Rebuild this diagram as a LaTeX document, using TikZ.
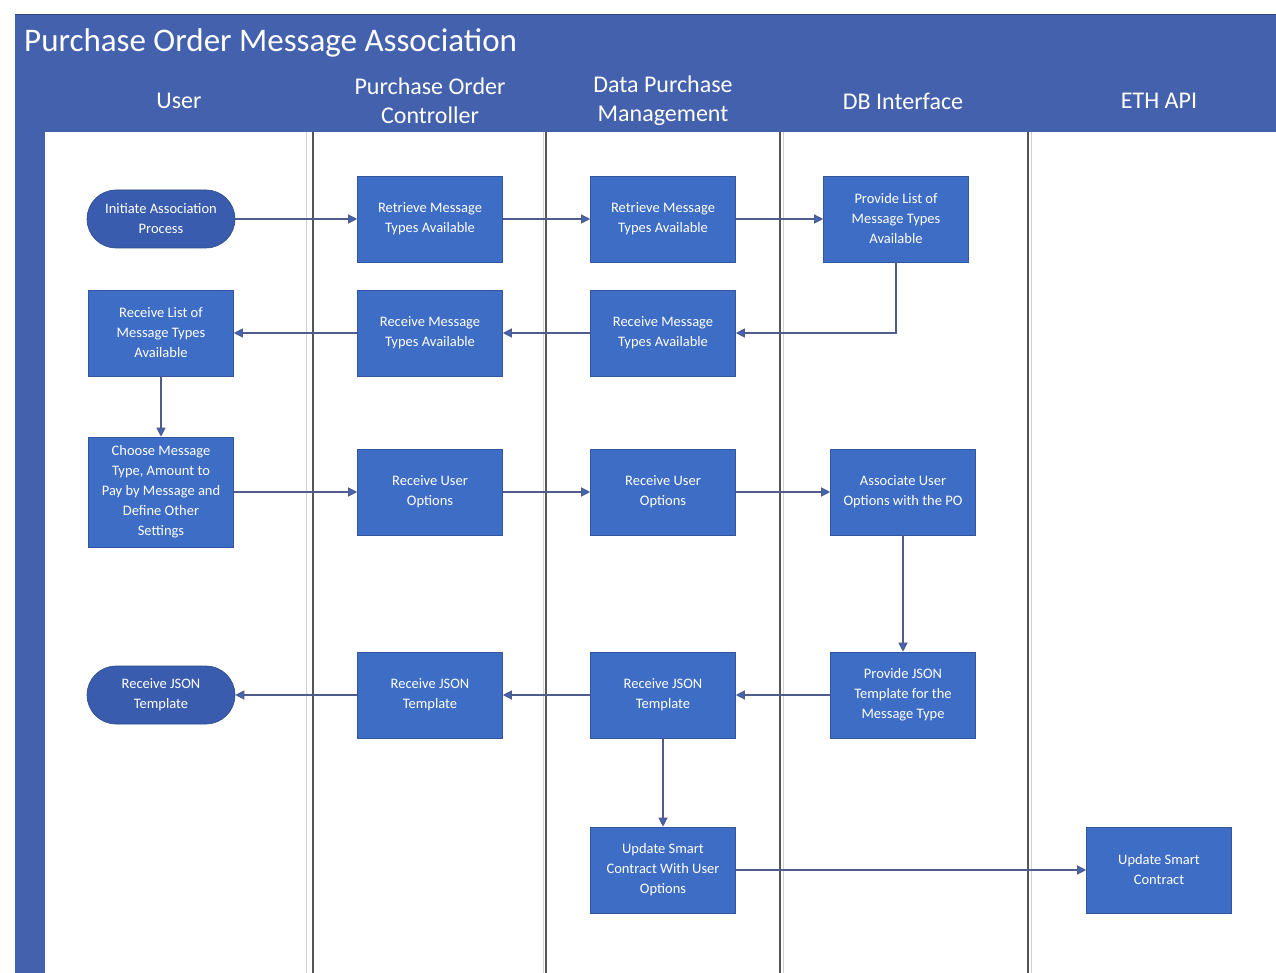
\documentclass[tikz,border=0pt]{standalone}
\usepackage{fontspec}
\setmainfont{Carlito}
\usetikzlibrary{arrows.meta}
\definecolor{hdrblue}{HTML}{4461AD}
\definecolor{boxblue}{HTML}{3E6DC6}
\definecolor{termblue}{HTML}{3A5CAE}
\definecolor{linecol}{HTML}{4F5C8C}
\definecolor{arrowcol}{HTML}{3F66C0}
\definecolor{lanegray}{HTML}{555555}
\tikzset{
  proc/.style={rectangle, fill=boxblue, draw=boxblue!80!black, line width=0.6pt,
    minimum width=145pt, minimum height=86pt, align=center,
    text=white, font=\fontsize{14.5}{20}\selectfont, inner sep=2pt},
  term/.style={rectangle, rounded corners=29pt, fill=termblue, draw=termblue!80!black, line width=0.6pt,
    minimum width=148pt, minimum height=58pt, align=center,
    text=white, font=\fontsize{14.5}{20}\selectfont, inner sep=2pt},
  flow/.style={draw=linecol, line width=1.2pt, -{Triangle[length=9pt,width=9pt,fill=arrowcol]}},
  lanelabel/.style={text=white, font=\fontsize{24}{29}\selectfont, align=center},
  lane/.style={draw=lanegray, line width=1.2pt},
  lanelight/.style={draw=black!18, line width=0.8pt}
}
\begin{document}
\begin{tikzpicture}[x=1pt,y=-1pt]
\useasboundingbox (0,0) rectangle (1276,973);
\fill[white] (0,0) rectangle (1276,973);
% header and left strip
\fill[hdrblue] (15,15) rectangle (1276,132);
\fill[hdrblue] (15,132) rectangle (45,973);
\draw[hdrblue!70!black, line width=1pt] (15,15) -- (1276,15);
% lane separators
\draw[lanelight] (306,132) -- (306,973);
\draw[lane] (313,132) -- (313,973);
\draw[lanelight] (543,132) -- (543,973);
\draw[lane] (546,132) -- (546,973);
\draw[lanelight] (783,132) -- (783,973);
\draw[lane] (780,132) -- (780,973);
\draw[lanelight] (1031,132) -- (1031,973);
\draw[lane] (1028,132) -- (1028,973);
% title and lane labels
\node[anchor=west, text=white, font=\fontsize{33}{36}\selectfont, inner sep=0pt] (title) at (24,43) {Purchase Order Message Association};
\node[lanelabel] (lUser) at (179,101) {User};
\node[lanelabel] (lPOC) at (430,101) {Purchase Order\\Controller};
\node[lanelabel] (lDPM) at (663,101) {Data Purchase\\Management};
\node[lanelabel] (lDB) at (903,101) {DB Interface};
\node[lanelabel] (lETH) at (1159,101) {ETH API};
% nodes
\node[term] (init) at (161,219) {Initiate Association\\Process};
\node[proc] (retr1) at (430,219) {Retrieve Message\\Types Available};
\node[proc] (retr2) at (663,219) {Retrieve Message\\Types Available};
\node[proc] (plist) at (896,219) {Provide List of\\Message Types\\Available};
\node[proc] (rlist) at (161,333) {Receive List of\\Message Types\\Available};
\node[proc] (rmt1) at (430,333) {Receive Message\\Types Available};
\node[proc] (rmt2) at (663,333) {Receive Message\\Types Available};
\node[proc, minimum height=110pt] (choose) at (161,492) {Choose Message\\Type, Amount to\\Pay by Message and\\Define Other\\Settings};
\node[proc] (ruo1) at (430,492) {Receive User\\Options};
\node[proc] (ruo2) at (663,492) {Receive User\\Options};
\node[proc] (assoc) at (903,492) {Associate User\\Options with the PO};
\node[proc] (pjson) at (903,695) {Provide JSON\\Template for the\\Message Type};
\node[proc] (rjson2) at (663,695) {Receive JSON\\Template};
\node[proc] (rjson1) at (430,695) {Receive JSON\\Template};
\node[term] (rjsonU) at (161,695) {Receive JSON\\Template};
\node[proc] (usc) at (663,870) {Update Smart\\Contract With User\\Options};
\node[proc] (uscE) at (1159,870) {Update Smart\\Contract};
% connectors
\draw[flow] (init) -- (retr1);
\draw[flow] (retr1) -- (retr2);
\draw[flow] (retr2) -- (plist);
\draw[flow] (plist.south) |- (rmt2.east);
\draw[flow] (rmt2) -- (rmt1);
\draw[flow] (rmt1) -- (rlist);
\draw[flow] (rlist) -- (choose);
\draw[flow] (choose) -- (ruo1);
\draw[flow] (ruo1) -- (ruo2);
\draw[flow] (ruo2) -- (assoc);
\draw[flow] (assoc) -- (pjson);
\draw[flow] (pjson) -- (rjson2);
\draw[flow] (rjson2) -- (rjson1);
\draw[flow] (rjson1) -- (rjsonU);
\draw[flow] (rjson2) -- (usc);
\draw[flow] (usc) -- (uscE);
\end{tikzpicture}
\end{document}
